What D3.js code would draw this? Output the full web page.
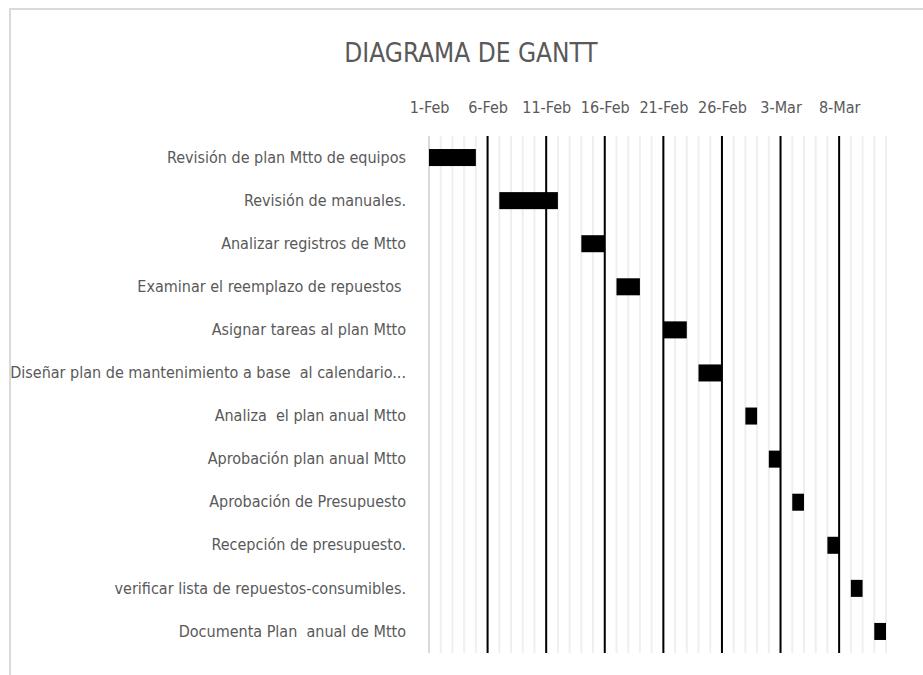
<!DOCTYPE html>
<html>
<head>
<meta charset="utf-8">
<script src="https://cdn.jsdelivr.net/npm/d3@7"></script>
<style>
  body { margin: 0; background: #fff; }
  text { font-family: "Liberation Sans Narrow", "DejaVu Sans Condensed", sans-serif; fill: #595959; white-space: pre; }
</style>
</head>
<body>
<div id="chart"></div>
<script>
// Task names, start dates and durations (days)
var tasks = [
  "Revisión de plan Mtto de equipos",
  "Revisión de manuales.",
  "Analizar registros de Mtto",
  "Examinar el reemplazo de repuestos ",
  "Asignar tareas al plan Mtto",
  "Diseñar plan de mantenimiento a base  al calendario...",
  "Analiza  el plan anual Mtto",
  "Aprobación plan anual Mtto",
  "Aprobación de Presupuesto",
  "Recepción de presupuesto.",
  "verificar lista de repuestos-consumibles.",
  "Documenta Plan  anual de Mtto"
];
var starts = [
  "2023-02-01", "2023-02-07", "2023-02-14", "2023-02-17", "2023-02-21", "2023-02-24",
  "2023-02-28", "2023-03-02", "2023-03-04", "2023-03-07", "2023-03-09", "2023-03-11"
];
var durations = [4, 5, 2, 2, 2, 2, 1, 1, 1, 1, 1, 1];

// axis range and tick step
var axisMin = "2023-02-01";
var axisMax = "2023-03-12";
var tickStep = 5;

var svgWidth = 923;
var svgHeight = 675;

var margin = { top: 136, right: 37, bottom: 22, left: 429 };
var width = svgWidth - margin.left - margin.right;
var height = svgHeight - margin.top - margin.bottom;

var parse = d3.utcParse("%Y-%m-%d");
var minDate = parse(axisMin);
var maxDate = parse(axisMax);

var svg = d3
  .select("#chart")
  .append("svg")
  .attr("width", svgWidth)
  .attr("height", svgHeight);

// chart border
svg
  .append("rect")
  .attr("x", 10)
  .attr("y", 9)
  .attr("width", 1000)
  .attr("height", 800)
  .attr("fill", "none")
  .attr("stroke", "#d9d9d9")
  .attr("stroke-width", 2);

// title
svg
  .append("text")
  .attr("x", 471)
  .attr("y", 62)
  .attr("text-anchor", "middle")
  .style("font-size", "26px")
  .text("DIAGRAMA DE GANTT");

var chartGroup = svg
  .append("g")
  .attr("transform", `translate(${margin.left}, ${margin.top})`);

var x = d3.scaleUtc().domain([minDate, maxDate]).range([0, width]);

var y = d3
  .scaleBand()
  .domain(tasks)
  .range([0, height])
  .paddingInner(0.605)
  .paddingOuter(0.3025);

// minor gridlines, every day
var days = d3.utcDay.range(minDate, d3.utcDay.offset(maxDate, 1));
chartGroup
  .append("g")
  .selectAll("line")
  .data(days)
  .enter()
  .append("line")
  .attr("x1", (d) => x(d))
  .attr("x2", (d) => x(d))
  .attr("y1", 0)
  .attr("y2", height)
  .attr("stroke", (d, i) => (i === 0 ? "#d9d9d9" : "#efefef"))
  .attr("stroke-width", 2);

// major gridlines, every 5 days
var tickValues = d3
  .range(0, d3.utcDay.count(minDate, maxDate) + 1, tickStep)
  .map((i) => d3.utcDay.offset(minDate, i));

chartGroup
  .append("g")
  .selectAll("line")
  .data(tickValues.slice(1))
  .enter()
  .append("line")
  .attr("x1", (d) => x(d))
  .attr("x2", (d) => x(d))
  .attr("y1", 0)
  .attr("y2", height)
  .attr("stroke", "#000")
  .attr("stroke-width", 2);

// top date axis
var topAxis = d3
  .axisTop(x)
  .tickValues(tickValues)
  .tickFormat(d3.utcFormat("%-d-%b"))
  .tickSize(0)
  .tickPadding(5);

var xAxis = chartGroup
  .append("g")
  .attr("transform", "translate(0, -18)")
  .call(topAxis);
xAxis.select(".domain").remove();
xAxis.selectAll("text").style("font-size", "16px").attr("font-family", null);

// task labels
var leftAxis = d3.axisLeft(y).tickSize(0).tickPadding(23);
var yAxis = chartGroup.append("g").call(leftAxis);
yAxis.select(".domain").remove();
yAxis.selectAll("text").style("font-size", "16px").attr("font-family", null);

// bars
chartGroup
  .append("g")
  .selectAll("rect")
  .data(tasks)
  .enter()
  .append("rect")
  .attr("x", (d, i) => x(parse(starts[i])))
  .attr("y", (d) => y(d))
  .attr("width", (d, i) => x(d3.utcDay.offset(parse(starts[i]), durations[i])) - x(parse(starts[i])))
  .attr("height", y.bandwidth())
  .attr("fill", "#000");
</script>
</body>
</html>
